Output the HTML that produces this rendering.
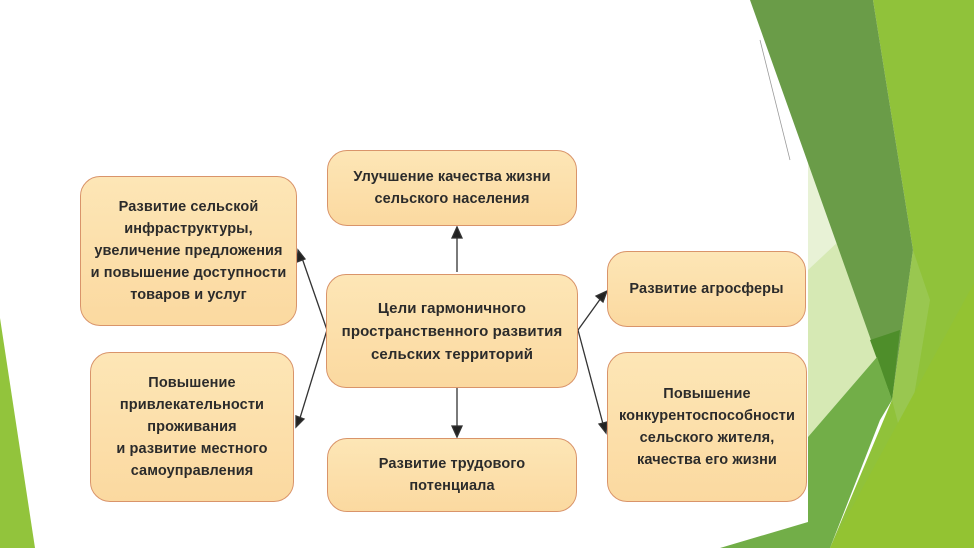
<!DOCTYPE html>
<html><head><meta charset="utf-8"><style>
body{margin:0;width:974px;height:548px;overflow:hidden;background:#fff;position:relative;font-family:"Liberation Sans","DejaVu Sans",sans-serif}
.b{position:absolute;box-sizing:border-box;background:linear-gradient(#fde6b6,#fbd9a0);border:1.5px solid #d9946a;border-radius:20px;display:flex;align-items:center;justify-content:center;text-align:center;font-size:14.5px;line-height:22px;color:#2b2b2b;font-weight:bold;letter-spacing:0.1px}
svg{position:absolute;left:0;top:0}
</style></head><body>
<svg width="974" height="548">
<polygon points="0,318 0,548 35,548" fill="#92c43c"/>
<polygon points="873,0 974,0 974,548 830,548 892,400 913,250" fill="#90c23a"/>
<polygon points="808,128 877,357 808,437" fill="#d6e9b4"/>
<polygon points="808,160 840,240 808,270" fill="#e8f2d6"/>
<polygon points="750,0 873,0 913,250 892,400 877,357" fill="#6a9c48"/>
<polygon points="870,340 900,330 892,400" fill="#4e8e2a"/>
<polygon points="808,437 877,357 892,400 880,420 830,548 720,548 808,522" fill="#72ae48"/>
<polygon points="913,250 930,300 905,450 892,400" fill="#9dc95a" opacity="0.7"/>
<polygon points="830,548 974,283 974,548" fill="#93c332"/>
<line x1="760" y1="40" x2="790" y2="160" stroke="#999" stroke-width="0.8"/>
<g stroke="#333" stroke-width="1.3" fill="#222">
<line x1="457" y1="272" x2="457" y2="236"/><polygon points="452,238 462,238 457,227"/>
<line x1="457" y1="388" x2="457" y2="428"/><polygon points="452,426 462,426 457,437"/>
<line x1="327" y1="330" x2="302" y2="258"/><polygon points="298,250 305,259 297,262"/>
<line x1="327" y1="330" x2="300" y2="418"/><polygon points="296,427 296,416 304,419"/>
<line x1="578" y1="330" x2="601" y2="298"/><polygon points="607,291 603,302 596,296"/>
<line x1="578" y1="330" x2="603" y2="424"/><polygon points="606,433 599,424 607,422"/>
</g>
</svg>
<div class="b" style="left:327px;top:150px;width:250px;height:76px">Улучшение качества жизни<br>сельского населения</div>
<div class="b" style="left:80px;top:176px;width:217px;height:150px">Развитие сельской<br>инфраструктуры,<br>увеличение предложения<br>и повышение доступности<br>товаров и услуг</div>
<div class="b" style="left:326px;top:274px;width:252px;height:114px;font-size:15px;line-height:23px">Цели гармоничного<br>пространственного развития<br>сельских территорий</div>
<div class="b" style="left:607px;top:251px;width:199px;height:76px">Развитие агросферы</div>
<div class="b" style="left:90px;top:352px;width:204px;height:150px">Повышение<br>привлекательности<br>проживания<br>и развитие местного<br>самоуправления</div>
<div class="b" style="left:327px;top:438px;width:250px;height:74px">Развитие трудового<br>потенциала</div>
<div class="b" style="left:607px;top:352px;width:200px;height:150px">Повышение<br>конкурентоспособности<br>сельского жителя,<br>качества его жизни</div>
</body></html>
